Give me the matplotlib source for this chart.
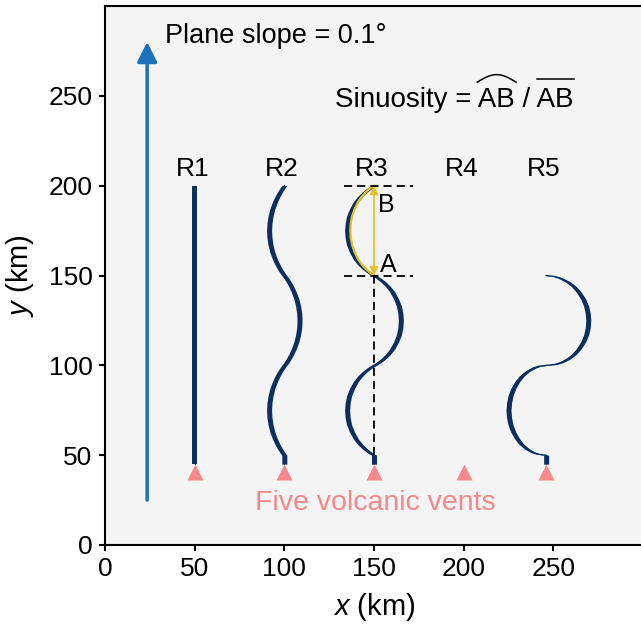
import numpy as np
import matplotlib
matplotlib.use("Agg")
import matplotlib.pyplot as plt

plt.rcParams['font.family'] = ['Liberation Sans', 'DejaVu Sans']
plt.rcParams['mathtext.fontset'] = 'custom'
plt.rcParams['mathtext.rm'] = 'Liberation Sans'
plt.rcParams['mathtext.it'] = 'Liberation Sans:italic'

# vents and labels
vent_x = [50, 100, 150, 200, 246]
vent_y = [40.5, 40.5, 40.5, 40.5, 40.5]
run_names = ['R1', 'R2', 'R3', 'R4', 'R5']

r1_y = [45, 200]
r1_x = [50, 50]

flow_y = [45, 50, 51.5, 53.5, 56, 59, 63, 67, 71, 75, 79, 83, 87, 91, 94, 96.5, 98.5, 100,
          101.5, 103.5, 106, 109, 113, 117, 121, 125, 129, 133, 137, 141, 144, 146.5, 148.5, 150,
          151.5, 153.5, 156, 159, 163, 167, 171, 175, 179, 183, 187, 191, 194, 196.5, 198.5, 200]
r2_x = [100, 100, 98.9, 97.6, 96.2, 94.8, 93.3, 92.3, 91.7, 91.5, 91.7, 92.3, 93.3, 94.8, 96.2, 97.6, 98.9, 100,
        101.1, 102.4, 103.8, 105.2, 106.7, 107.7, 108.3, 108.5, 108.3, 107.7, 106.7, 105.2, 103.8, 102.4, 101.1, 100,
        98.9, 97.6, 96.2, 94.8, 93.3, 92.3, 91.7, 91.5, 91.7, 92.3, 93.3, 94.8, 96.2, 97.6, 98.9, 100]
r3_x = [150, 150, 147.5, 144.9, 142.3, 139.9, 137.7, 136.1, 135.3, 135, 135.3, 136.1, 137.7, 139.9, 142.3, 144.9, 147.5, 150,
        152.5, 155.1, 157.7, 160.1, 162.3, 163.9, 164.7, 165, 164.7, 163.9, 162.3, 160.1, 157.7, 155.1, 152.5, 150,
        147.5, 144.9, 142.3, 139.9, 137.7, 136.1, 135.3, 135, 135.3, 136.1, 137.7, 139.9, 142.3, 144.9, 147.5, 150]

r5_y = [45, 50, 50.5, 51.5, 53.5, 56, 59, 63, 67, 71, 75, 79, 83, 87, 91, 94, 96.5, 98.5, 99.5, 100,
        100.5, 101.5, 103.5, 106, 109, 113, 117, 121, 125, 129, 133, 137, 141, 144, 146.5, 148.5, 149.5, 150]
r5_x = [246, 246, 241.8, 238.8, 235.3, 232.3, 229.9, 227.6, 226.1, 225.3, 225, 225.3, 226.1, 227.6, 229.9, 232.3,
        235.3, 238.8, 241.8, 246,
        250.7, 254.0, 258.0, 261.3, 264.0, 266.6, 268.3, 269.2, 269.5, 269.2, 268.3, 266.6, 264.0, 261.3, 258.0,
        254.0, 250.7, 246]

point_a = 150
point_b = 200

navy = '#0c2f5e'
coral = '#f3898b'
gold = '#e6c02a'
blue = '#1b72b8'

fig = plt.figure(figsize=(6.41, 6.25), dpi=100)
ax = fig.add_axes([105 / 641, 80 / 625, 538 / 641, 539 / 625])
ax.set_facecolor('#f4f4f4')
ax.set_xlim(0, 300)
ax.set_ylim(0, 300)

w = 2.8
for xs, ys in [(r1_x, r1_y), (r2_x, flow_y), (r3_x, flow_y), (r5_x, r5_y)]:
    xs = np.array(xs)
    ax.fill_betweenx(ys, xs - w / 2, xs + w / 2, color=navy, lw=0, zorder=3)
    ax.plot(xs, ys, color=navy, lw=0.9, zorder=3)

# A-B highlight on R3
i0 = flow_y.index(point_a)
arc_y = flow_y[i0:]
arc_x = 150 - (150 - np.array(r3_x[i0:])) * 0.88
ax.plot(arc_x, arc_y, color=gold, lw=1.6, zorder=4)
ax.annotate('', xy=(150, point_b), xytext=(150, point_a),
            arrowprops=dict(arrowstyle='<|-|>', color=gold, lw=1.3, mutation_scale=12,
                            shrinkA=0, shrinkB=0), zorder=5)
ax.plot([133, 172], [point_a, point_a], color='k', lw=1.3, dashes=(4.5, 2.8), zorder=5)
ax.plot([133, 172], [point_b, point_b], color='k', lw=1.3, dashes=(4.5, 2.8), zorder=5)
ax.plot([150, 150], [50, point_a], color='k', lw=1.3, dashes=(4.5, 2.8), zorder=5)
ax.text(153.5, 152, 'A', fontsize=18, va='baseline', zorder=6)
ax.text(152.5, 185.5, 'B', fontsize=18, va='baseline', zorder=6)

# vents
ax.plot(vent_x, vent_y, '^', color=coral, ms=11, mec='none', zorder=4)
ax.text(150.5, 19.5, 'Five volcanic vents', color=coral, fontsize=20.5, ha='center', va='baseline')
for vx, name in zip(vent_x, run_names):
    ax.text(vx - 1.3, 205.5, name, fontsize=19, ha='center', va='baseline')

# slope arrow
ax.annotate('', xy=(23.5, 280), xytext=(23.5, 25),
            arrowprops=dict(arrowstyle='-|>', color=blue, lw=2.5, mutation_scale=30,
                            shrinkA=0, shrinkB=0))
ax.text(33.5, 279.5, 'Plane slope = 0.1°', fontsize=19.5, va='baseline')

# sinuosity formula with arc and bar
fs = 20
fig.canvas.draw()
rend = fig.canvas.get_renderer()


def text_w(s):
    tt = ax.text(0, 0, s, fontsize=fs)
    ww = tt.get_window_extent(rend).width
    tt.remove()
    return ww


sx, sy = 128.5, 244
label = 'Sinuosity = AB / AB'
ax.text(sx, sy, label, fontsize=fs, va='baseline')
per_px = 1 / (ax.transData.transform((1, 0))[0] - ax.transData.transform((0, 0))[0])
ab_w = text_w('AB') * per_px
ab1_r = sx + text_w('Sinuosity = AB') * per_px
ab2_r = sx + text_w(label) * per_px
s = np.linspace(0, 1, 40)
ax.plot(ab1_r - ab_w - 0.5 + s * (ab_w + 1), sy + 13.6 + 4.2 * np.sin(np.pi * s), color='k', lw=1.1)
ax.plot([ab2_r - ab_w, ab2_r], [sy + 15.4, sy + 15.4], color='k', lw=1.1)

ax.set_xticks([0, 50, 100, 150, 200, 250])
ax.set_yticks([0, 50, 100, 150, 200, 250])
ax.tick_params(direction='out', length=4, width=1.5, labelsize=19, pad=5)
for sp in ['left', 'bottom', 'top']:
    ax.spines[sp].set_linewidth(1.5)
ax.spines['right'].set_visible(False)
ax.set_xlabel('$x$ (km)', fontsize=21, labelpad=7)
ax.set_ylabel('$y$ (km)', fontsize=21, labelpad=9)

fig.savefig('out.png', dpi=100)
